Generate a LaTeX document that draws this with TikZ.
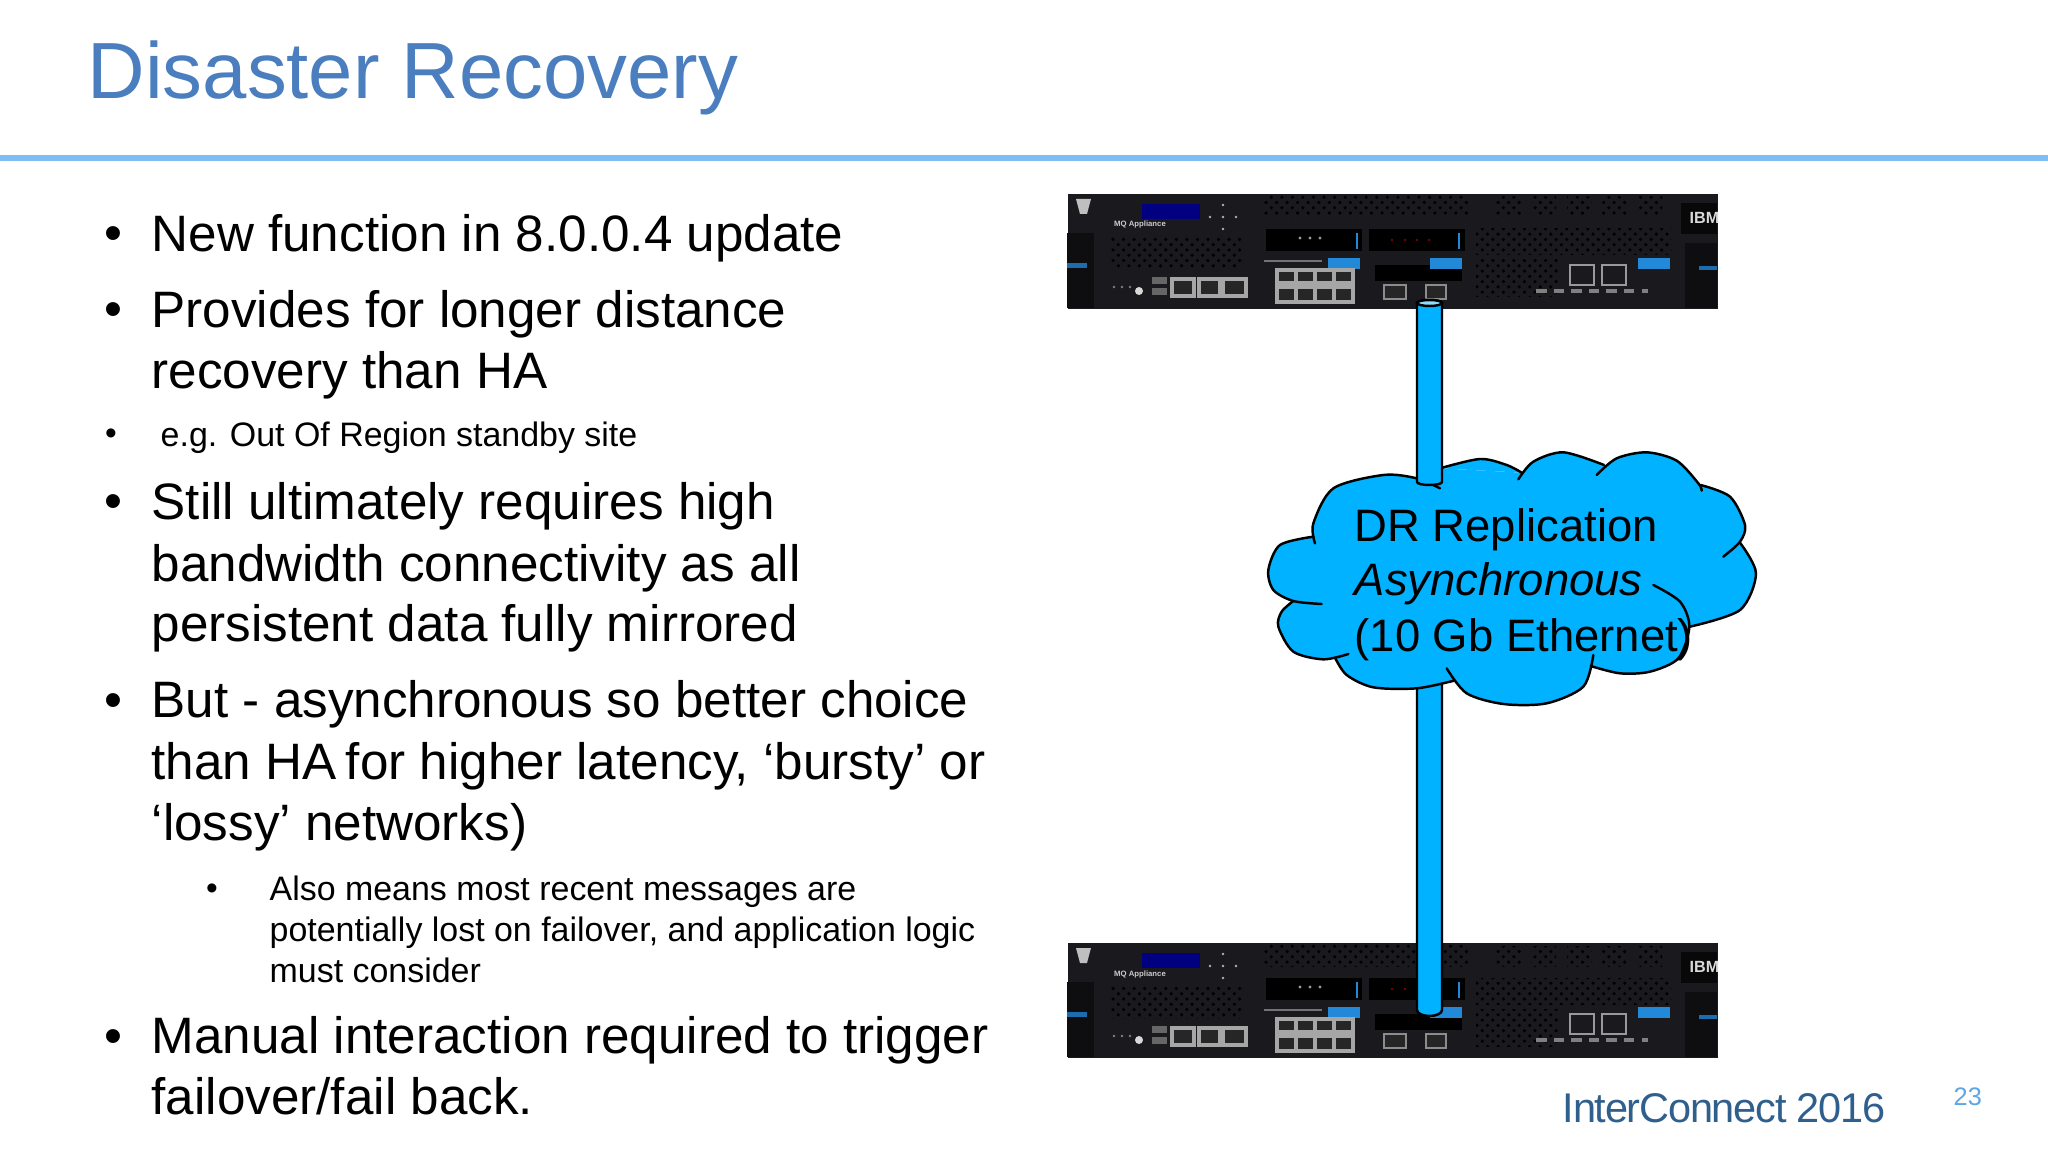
\documentclass[tikz,border=0pt]{standalone}
\usepackage{fontspec}
\setmainfont{Liberation Sans}
\newfontfamily\footerfont[LetterSpace=-3]{Liberation Sans}
\usetikzlibrary{patterns}
\definecolor{titleblue}{HTML}{4A7EBF}
\definecolor{rulerblue}{HTML}{7FBDF3}
\definecolor{cloudblue}{HTML}{00B2FF}
\definecolor{footerblue}{HTML}{2F5F8C}
\definecolor{pageblue}{HTML}{5AA6E6}
\definecolor{chassis}{HTML}{1A1A1E}
\definecolor{handleblue}{HTML}{2288D8}
\tikzset{
  bigtext/.style = {anchor=base west, align=left, inner sep=0pt, font=\fontsize{14.56}{17.47}\selectfont},
  smalltext/.style = {anchor=base west, align=left, inner sep=0pt, font=\fontsize{9.65}{11.66}\selectfont},
  cloudtext/.style = {anchor=base west, align=left, inner sep=0pt, font=\fontsize{12.92}{15.5}\selectfont},
  serverbox/.style = {anchor=north west, fill=chassis, minimum width=65mm, minimum height=11.5mm, inner sep=0pt},
  mesh/.style = {pattern=crosshatch dots, pattern color=black},
  port/.style = {fill=black!85, draw=white!65!black, line width=1pt},
  tube/.style = {fill=cloudblue, draw=black, line width=0.7pt},
  cloudline/.style = {draw=black, line width=0.7pt, line cap=round}
}
% one appliance front panel, #1 is the node name, #2 its top edge
\newcommand{\serverunit}[2]{
  \node[serverbox] (#1) at (1067,#2) {};
  \begin{scope}[shift={(1067,#2)}]
    \fill[black!45!chassis] (0,40) rectangle (27,115);
    \fill[handleblue!80!black] (0,70) rectangle (20,75);
    \fill[black!45!chassis] (618,50) rectangle (650,115);
    \fill[handleblue!80!black] (632,73) rectangle (650,77);
    \fill[black!25] (9,6) -- (24,6) -- (20,21) -- (13,21) -- cycle;
    \fill[blue!50!black] (75,11) rectangle (133,26);
    \node[text=white!80!black, font=\fontsize{2.2}{3}\selectfont\bfseries, inner sep=0pt] (#1label) at (73,32) {MQ Appliance};
    \foreach \dx/\dy in {0/0,-13/0,13/0,0/-12,0/12}
      \fill[black!30] (156+\dx,24+\dy) circle [radius=1.4];
    % vents
    \fill[mesh] (44,44) rectangle (176,76);
    \fill[mesh] (197,2) rectangle (401,24);
    \foreach \xpos in {429,464,500,535,570}
      \fill[mesh] (\xpos,4) rectangle (\xpos+25,24);
    \fill[mesh] (409,36) rectangle (604,62);
    \fill[mesh] (409,67) rectangle (491,104);
    % drive modules
    \fill[black] (199,36) rectangle (295,58);
    \fill[black] (302,36) rectangle (398,58);
    \draw[handleblue, line width=0.6pt] (290,40) -- (290,56);
    \draw[handleblue, line width=0.6pt] (392,40) -- (392,56);
    \foreach \xpos in {233,243,253}
      \fill[black!40] (\xpos,45) circle [radius=1.6];
    \foreach \xpos in {325,338,350,362}
      \fill[red!50!black] (\xpos,47) circle [radius=1.4];
    \fill[black] (308,72) rectangle (395,88);
    % blue latches
    \foreach \xpos in {261,363,571}
      \fill[handleblue] (\xpos,65) rectangle (\xpos+32,76);
    \draw[black!55] (197,68) -- (255,68);
    % network ports
    \foreach \xpos/\wid in {105/22,132/21,156/23}
      \draw[port] (\xpos,86) rectangle (\xpos+\wid,103);
    \fill[black!60] (85,84) rectangle (100,91);
    \fill[black!60] (85,95) rectangle (100,102);
    \foreach \xpos in {47,55,63}
      \fill[black!50] (\xpos,94) circle [radius=1.3];
    \fill[white!85!black] (72,98) circle [radius=4];
    \foreach \xpos in {210,229,248,267}{
      \draw[port] (\xpos,77) rectangle (\xpos+19,90);
      \draw[port] (\xpos,94) rectangle (\xpos+19,109);
    }
    \foreach \xpos/\wid in {317/22,359/20}
      \draw[port, draw=black!45, line width=0.6pt] (\xpos,92) rectangle (\xpos+\wid,106);
    \foreach \xpos in {503,535}
      \draw[draw=black!40, line width=0.8pt] (\xpos,72) rectangle (\xpos+24,92);
    \draw[black!50, line width=1pt, dash pattern=on 3pt off 2pt] (469,98) -- (581,98);
    % maker's badge
    \fill[black!70!chassis] (614,10) rectangle (650,41);
    \node[text=white!85!black, font=\fontsize{4.6}{5}\selectfont\bfseries, inner sep=0pt, anchor=west] (#1badge) at (622,25) {IBM};
  \end{scope}
}
\newcommand{\cloudlobes}[1]{
  \path[#1] plot[smooth] coordinates {(195,340) (190,280) (250,175) (400,135) (500,145) (570,175)};
  \path[#1] plot[smooth] coordinates {(570,115) (690,87) (770,105) (815,128)};
  \path[#1] plot[smooth] coordinates {(805,148) (850,95) (940,67) (1062,105)};
  \path[#1] plot[smooth] coordinates {(1040,135) (1100,85) (1190,67) (1280,92) (1345,160) (1355,182)};
  \path[#1] plot[smooth] coordinates {(1352,165) (1440,200) (1485,285) (1470,335) (1420,380)};
  \path[#1] plot[smooth] coordinates {(1470,338) (1518,430) (1470,540) (1320,590)};
  \path[#1] plot[smooth] coordinates {(1210,465) (1290,515) (1318,590) (1285,685) (1200,725) (1110,730) (1022,708)};
  \path[#1] plot[smooth] coordinates {(1030,675) (1000,770) (890,820) (760,822) (650,790) (590,715)};
  \path[#1] plot[smooth] coordinates {(612,752) (500,775) (370,772) (290,735) (255,683)};
  \path[#1] plot[smooth] coordinates {(295,672) (220,688) (130,665) (85,590) (95,545) (130,513)};
  \path[#1] plot[smooth] coordinates {(215,522) (130,513) (70,480) (55,420) (90,345) (190,320)};
}
\begin{document}
\begin{tikzpicture}[x=0.01cm, y=-0.01cm]
\useasboundingbox (0,0) rectangle (2048,1152);
\fill[white] (0,0) rectangle (2048,1152);

% heading
\node[anchor=base west, inner sep=0pt, text=titleblue, font=\fontsize{22.65}{27}\selectfont] (title) at (87,99) {Disaster Recovery};
\draw[rulerblue, line width=1.5pt] (0,158) -- (2048,158);

% bullets
\foreach \bname/\ypos in {ba/251,bb/327,bc/519,bd/717,be/1053}
  \node[anchor=base, inner sep=0pt, font=\fontsize{14.56}{17}\selectfont] (\bname) at (113,\ypos) {•};
\foreach \bname/\xpos/\ypos in {bf/111/445,bg/212/899}
  \node[anchor=base, inner sep=0pt, font=\fontsize{9.5}{11}\selectfont] (\bname) at (\xpos,\ypos) {•};

\node[bigtext] (lineone) at (151,252) {New function in 8.0.0.4 update};
\node[bigtext] (linetwo) at (151,328) {Provides for longer distance};
\node[bigtext] (linethree) at (151,389) {recovery than HA};
\node[smalltext] (linefour) at (160,447) {e.g. Out Of Region standby site};
\node[bigtext] (linefive) at (151,520) {Still ultimately requires high};
\node[bigtext] (linesix) at (151,581) {bandwidth connectivity as all};
\node[bigtext] (lineseven) at (151,642) {persistent data fully mirrored};
\node[bigtext] (lineeight) at (151,717) {But - asynchronous so better choice};
\node[bigtext] (linenine) at (151,779) {than HA\kern-1.4pt{} for higher latency, ‘bursty’ or};
\node[bigtext] (lineten) at (151,840) {‘lossy’ networks)};
\node[smalltext] (subone) at (269,900) {Also means most recent messages are};
\node[smalltext] (subtwo) at (269,941) {potentially lost on failover, and application logic};
\node[smalltext] (subthree) at (269,982) {must consider};
\node[bigtext] (lineeleven) at (151,1053) {Manual interaction required to trigger};
\node[bigtext] (linetwelve) at (151,1114) {failover/fail back.};

% appliances
\serverunit{servertop}{193}
\serverunit{serverbottom}{942}

% lower link runs behind the cloud
\coordinate (linkbottom) at (1429.5,1010);
\draw[tube] ([xshift=-12.5*0.01cm]linkbottom) -- ++(0,-340) -- ++(25,0) -- ([xshift=12.5*0.01cm]linkbottom) arc [start angle=0, end angle=-180, x radius=12.5, y radius=-6] -- cycle;

% cloud
\begin{scope}[shift={(1250,430)}, scale=1/3]
  \fill[cloudblue] (190,320) -- (250,175) -- (500,145) -- (570,115) -- (815,128) -- (1062,105) -- (1345,160) -- (1440,200) -- (1470,338) -- (1518,430) -- (1320,590) -- (1285,685) -- (1022,708) -- (890,820) -- (650,790) -- (612,752) -- (370,772) -- (255,683) -- (130,665) -- (130,513) -- (55,420) -- cycle;
  \cloudlobes{fill=cloudblue}
  \cloudlobes{cloudline}
\end{scope}

% upper link sits on top of the cloud
\coordinate (linktop) at (1429.5,303);
\draw[tube] ([xshift=-12.5*0.01cm]linktop) -- ++(0,179) arc [start angle=180, end angle=360, x radius=12.5, y radius=-3] -- ++(0,-179) arc [start angle=0, end angle=180, x radius=12.5, y radius=-3] -- cycle;
\draw[black, line width=0.7pt, fill=cloudblue!45] (linktop) ellipse [x radius=12.5, y radius=3];

\node[cloudtext] (cloudone) at (1354,542) {DR Replication};
\node[cloudtext, font=\fontsize{12.92}{15.5}\selectfont\itshape] (cloudtwo) at (1354,596) {Asynchronous};
\node[cloudtext] (cloudthree) at (1354,651) {(10 Gb Ethernet)};

% footer
\node[anchor=base west, inner sep=0pt, text=footerblue, font=\fontsize{11.8}{13}\footerfont] (footer) at (1562,1122) {InterConnect 2016};
\node[anchor=base west, inner sep=0pt, text=pageblue, font=\fontsize{7.2}{9}\selectfont] (pagenum) at (1953,1105) {23};
\end{tikzpicture}
\end{document}
